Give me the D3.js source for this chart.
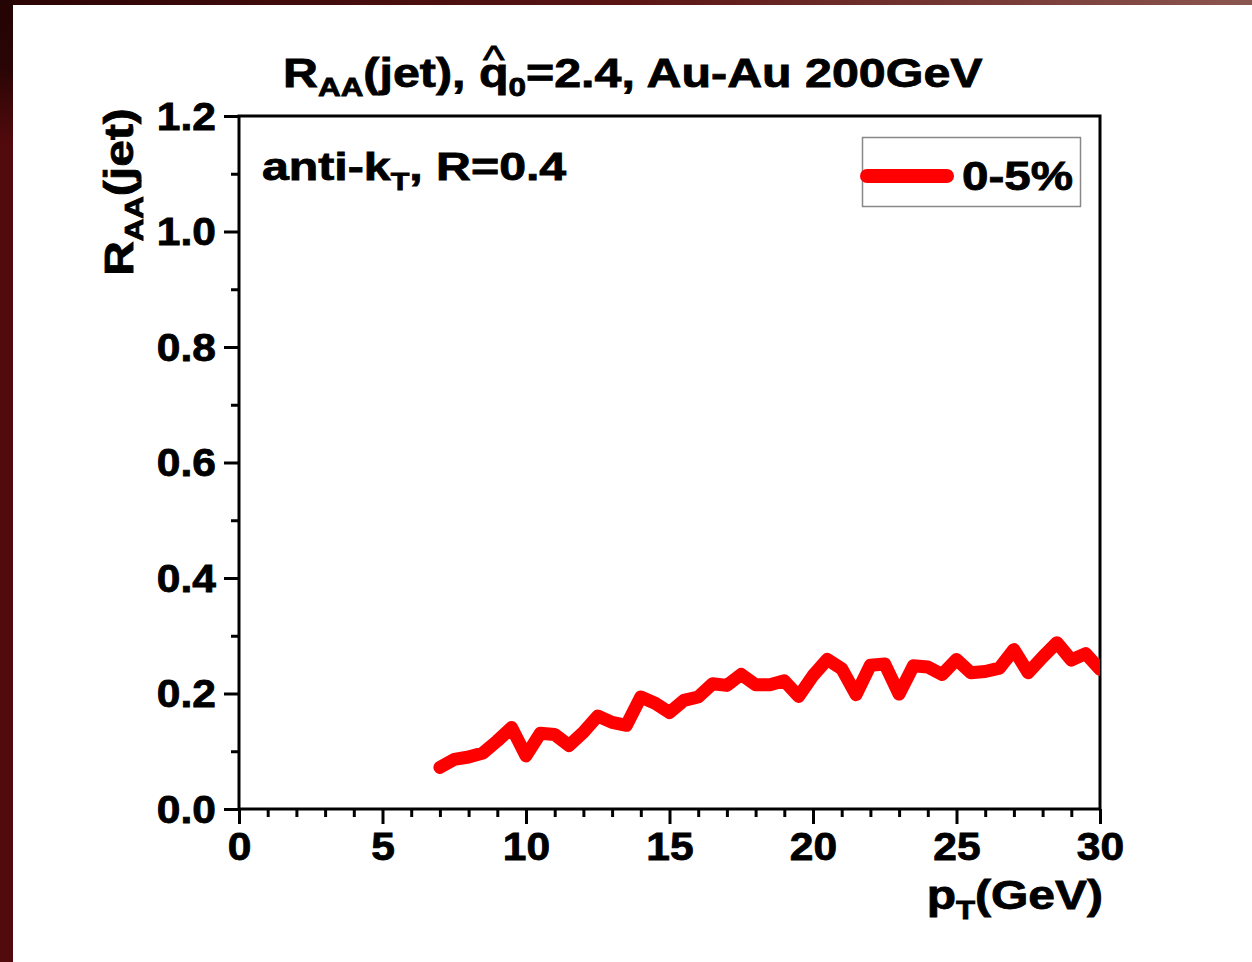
<!DOCTYPE html>
<html>
<head>
<meta charset="utf-8">
<script src="https://cdn.jsdelivr.net/npm/d3@7"></script>
<style>
  body { margin: 0; background: #fff; }
  svg text { font-family: "Liberation Sans", Arial, sans-serif; font-weight: bold; fill: #000; stroke: #000; stroke-width: 0.8px; }
</style>
</head>
<body>
<script>
// chart values
var ptValues = [7, 7.5, 8, 8.5, 9, 9.5, 10, 10.5, 11, 11.5, 12, 12.5, 13, 13.5, 14, 14.5,
  15, 15.5, 16, 16.5, 17, 17.5, 18, 18.5, 19, 19.5, 20, 20.5, 21, 21.5, 22, 22.5,
  23, 23.5, 24, 24.5, 25, 25.5, 26, 26.5, 27, 27.5, 28, 28.5, 29, 29.5, 30];
var raaValues = [0.072, 0.086, 0.090, 0.097, 0.118, 0.141, 0.092, 0.131, 0.129, 0.110, 0.133, 0.161,
  0.150, 0.145, 0.194, 0.183, 0.167, 0.188, 0.194, 0.217, 0.214, 0.233, 0.215, 0.215,
  0.222, 0.195, 0.231, 0.259, 0.243, 0.198, 0.249, 0.251, 0.199, 0.248, 0.246, 0.233,
  0.259, 0.236, 0.238, 0.244, 0.276, 0.236, 0.263, 0.288, 0.258, 0.269, 0.242];
var xTicks = [0, 5, 10, 15, 20, 25, 30];
var xMinorTicks = [1, 2, 3, 4, 6, 7, 8, 9, 11, 12, 13, 14, 16, 17, 18, 19, 21, 22, 23, 24, 26, 27, 28, 29];
var yTicks = [0, 0.2, 0.4, 0.6, 0.8, 1.0, 1.2];
var yMinorTicks = [0.1, 0.3, 0.5, 0.7, 0.9, 1.1];
var legendLabel = "0-5%";

// Set the dimensions
var W = 1252, H = 962;
var margin = { top: 116, right: 152, bottom: 153, left: 239 },
  width = W - margin.left - margin.right,
  height = H - margin.top - margin.bottom;

var svg = d3.select("body").append("svg")
  .attr("width", W)
  .attr("height", H);

// slide frame
var defs = svg.append("defs");
var gTop = defs.append("linearGradient").attr("id", "gtop")
  .attr("x1", "0").attr("x2", "1").attr("y1", "0").attr("y2", "0");
gTop.append("stop").attr("offset", "0").attr("stop-color", "#2a0404");
gTop.append("stop").attr("offset", "0.5").attr("stop-color", "#5a1414");
gTop.append("stop").attr("offset", "1").attr("stop-color", "#8c5650");
var gLeft = defs.append("linearGradient").attr("id", "gleft")
  .attr("x1", "0").attr("x2", "0").attr("y1", "0").attr("y2", "1");
gLeft.append("stop").attr("offset", "0").attr("stop-color", "#250404");
gLeft.append("stop").attr("offset", "0.07").attr("stop-color", "#2a0505");
gLeft.append("stop").attr("offset", "0.15").attr("stop-color", "#520a0c");
gLeft.append("stop").attr("offset", "1").attr("stop-color", "#520a0c");
defs.append("clipPath").attr("id", "plotclip")
  .append("rect").attr("x", 0).attr("y", 0).attr("width", width).attr("height", height);

svg.append("rect").attr("x", 0).attr("y", 0).attr("width", W).attr("height", 5).attr("fill", "url(#gtop)");
svg.append("rect").attr("x", 0).attr("y", 0).attr("width", 13).attr("height", H).attr("fill", "url(#gleft)");

var g = svg.append("g")
  .attr("transform", "translate(" + margin.left + "," + margin.top + ")");

// Set the ranges
var xRange = d3.scaleLinear().domain([0, 30]).range([0, width]);
var yRange = d3.scaleLinear().domain([0, 1.2]).range([height, 0]);

// minor ticks first
g.append("g")
  .attr("transform", "translate(0," + height + ")")
  .call(d3.axisBottom(xRange).tickValues(xMinorTicks).tickSize(8).tickFormat(""))
  .call(function (a) { a.select(".domain").remove(); a.selectAll("line").attr("stroke-width", 3); });
g.append("g")
  .call(d3.axisLeft(yRange).tickValues(yMinorTicks).tickSize(8).tickFormat(""))
  .call(function (a) { a.select(".domain").remove(); a.selectAll("line").attr("stroke-width", 3); });

// major axes
var xAxis = g.append("g")
  .attr("transform", "translate(0," + height + ")")
  .call(d3.axisBottom(xRange).tickValues(xTicks).tickSize(15).tickPadding(8).tickFormat(d3.format("d")));
xAxis.select(".domain").remove();
xAxis.selectAll("line").attr("stroke-width", 3);
xAxis.selectAll("text").style("font-size", "38px")
  .attr("y", null).attr("dy", null)
  .attr("transform", "translate(0,51) scale(1.12,1)");

var yAxis = g.append("g")
  .call(d3.axisLeft(yRange).tickValues(yTicks).tickSize(15).tickPadding(9).tickFormat(d3.format(".1f")));
yAxis.select(".domain").remove();
yAxis.selectAll("line").attr("stroke-width", 3);
yAxis.selectAll("text").style("font-size", "38px")
  .attr("x", null).attr("dy", null)
  .attr("transform", "translate(-23,13) scale(1.12,1)");

// frame
g.append("rect")
  .attr("x", 0).attr("y", 0).attr("width", width).attr("height", height)
  .attr("fill", "none").attr("stroke", "#000").attr("stroke-width", 3);

// the curve
var valueline = d3.line()
  .x(function (d, i) { return xRange(ptValues[i]); })
  .y(function (d) { return yRange(d); });

g.append("path")
  .datum(raaValues)
  .attr("clip-path", "url(#plotclip)")
  .attr("d", valueline)
  .attr("fill", "none")
  .attr("stroke", "#ff0000")
  .attr("stroke-width", 13)
  .attr("stroke-linejoin", "round")
  .attr("stroke-linecap", "round");

// legend
var leg = svg.append("g");
leg.append("rect")
  .attr("x", 862.5).attr("y", 137.5).attr("width", 218).attr("height", 69)
  .attr("fill", "#fff").attr("stroke", "#888").attr("stroke-width", 1.5);
leg.append("line")
  .attr("x1", 867).attr("x2", 947).attr("y1", 176).attr("y2", 176)
  .attr("stroke", "#ff0000").attr("stroke-width", 14).attr("stroke-linecap", "round");
leg.append("text")
  .attr("transform", "translate(962,190) scale(1.19,1)")
  .style("font-size", "40px")
  .text(legendLabel);

// title
var titleG = svg.append("g").attr("transform", "translate(283,87) scale(1.21,1)");
var title = titleG.append("text").attr("x", 0).attr("y", 0).style("font-size", "40px");
title.append("tspan").text("R");
title.append("tspan").attr("dy", 9).style("font-size", "26px").text("AA");
title.append("tspan").attr("dy", -9).text("(jet), q");
title.append("tspan").attr("dy", 9).style("font-size", "26px").text("0");
title.append("tspan").attr("dy", -9).text("=2.4, Au-Au 200GeV");
// the hat over q, kept inside the same text element
var qIdx = "RAA(jet), ".length;
var qBox = title.node().getExtentOfChar(qIdx);
title.append("tspan")
  .attr("x", qBox.x + qBox.width / 2).attr("y", -14)
  .attr("text-anchor", "middle")
  .style("font-size", "38px").style("font-weight", "normal")
  .text("^");

// annotation
var ann = svg.append("text")
  .attr("transform", "translate(262,180) scale(1.27,1)")
  .style("font-size", "38px");
ann.append("tspan").text("anti-k");
ann.append("tspan").attr("dy", 10).style("font-size", "24px").text("T");
ann.append("tspan").attr("dy", -10).text(", R=0.4");

// y label
var yl = svg.append("text")
  .attr("transform", "translate(133,192) rotate(-90) scale(1.2,1)")
  .attr("text-anchor", "middle")
  .style("font-size", "40px");
yl.append("tspan").text("R");
yl.append("tspan").attr("dy", 10).style("font-size", "26px").text("AA");
yl.append("tspan").attr("dy", -10).text("(jet)");

// x label
var xl = svg.append("text")
  .attr("transform", "translate(1103,909) scale(1.2,1)")
  .attr("text-anchor", "end")
  .style("font-size", "40px");
xl.append("tspan").text("p");
xl.append("tspan").attr("dy", 10).style("font-size", "26px").text("T");
xl.append("tspan").attr("dy", -10).text("(GeV)");
</script>
</body>
</html>
